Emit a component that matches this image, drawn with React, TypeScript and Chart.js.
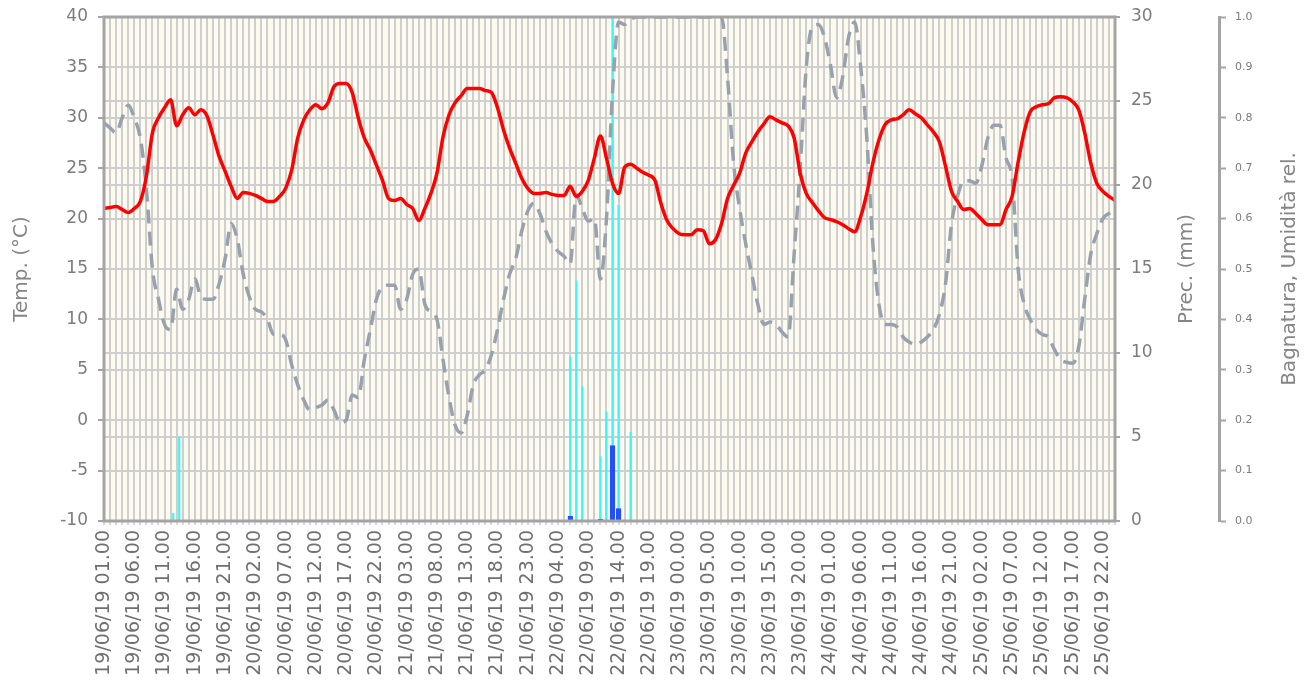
import React, { useEffect, useRef } from 'react';
import { Chart, registerables } from 'chart.js';

Chart.register(...registerables);

// ---------- DATA ----------
// hourly categories: 19/06/19 01.00 ... 26/06/19 00.00
const START_DAY = 19;
const HOUR_COUNT = 168;
const categories: string[] = [];
for (let h = 0; h < HOUR_COUNT; h++) {
  const t = h + 1;
  const d = START_DAY + Math.floor(t / 24);
  const hr = t % 24;
  categories.push(`${String(d).padStart(2, '0')}/06/19 ${String(hr).padStart(2, '0')}.00`);
}
const LABEL_EVERY = 5;

// Temperature (°C), left axis
const temperature = [
  21.0, 21.1, 21.2, 20.9, 20.6, 21.0, 21.7, 24.2, 28.5, 30.0,
  31.0, 31.8, 29.2, 30.3, 31.0, 30.3, 30.8, 30.2, 28.3, 26.2,
  24.7, 23.2, 22.0, 22.6, 22.5, 22.3, 22.0, 21.7, 21.7, 22.2,
  23.0, 24.8, 28.0, 29.8, 30.8, 31.3, 30.9, 31.5, 33.1, 33.4,
  33.4, 32.5, 30.0, 28.0, 26.8, 25.3, 23.8, 22.0, 21.8, 22.0,
  21.4, 21.0, 19.8, 21.0, 22.5, 24.5, 28.1, 30.3, 31.5, 32.2,
  32.9, 32.9, 32.9, 32.7, 32.5, 31.0, 28.8, 27.0, 25.5, 24.0,
  23.0, 22.5, 22.5, 22.6, 22.4, 22.3, 22.3, 23.2, 22.2, 22.7,
  23.8, 26.0, 28.2, 26.0, 23.5, 22.5, 25.1, 25.4, 25.0, 24.6,
  24.3, 23.8, 21.5, 19.8, 19.0, 18.5, 18.4, 18.4, 18.9, 18.8,
  17.5, 17.9, 19.5, 22.0, 23.3, 24.5, 26.5, 27.6, 28.6, 29.4,
  30.1, 29.8, 29.5, 29.2, 28.0, 24.5, 22.5, 21.6, 20.8, 20.1,
  19.9, 19.7, 19.4, 19.0, 18.7, 20.2, 22.5, 25.5, 27.8, 29.3,
  29.8, 29.9, 30.3, 30.8, 30.4, 30.0, 29.3, 28.6, 27.6, 25.2,
  22.7, 21.7, 20.9, 21.0, 20.5, 19.9, 19.4, 19.4, 19.4, 20.9,
  22.2, 25.6, 28.6, 30.6, 31.1, 31.3, 31.4, 32.0, 32.1, 32.0,
  31.6, 30.8, 28.5, 25.5, 23.5, 22.7, 22.2, 21.8,
];

// Relative humidity (0-1), outer right axis
const humidity = [
  0.79, 0.78, 0.77, 0.80, 0.825, 0.80, 0.76, 0.66, 0.50, 0.44,
  0.39, 0.38, 0.46, 0.42, 0.44, 0.48, 0.445, 0.44, 0.44, 0.47,
  0.52, 0.59, 0.56, 0.49, 0.445, 0.42, 0.415, 0.40, 0.37, 0.37,
  0.36, 0.31, 0.27, 0.24, 0.22, 0.225, 0.23, 0.24, 0.22, 0.195,
  0.20, 0.25, 0.245, 0.32, 0.38, 0.44, 0.465, 0.468, 0.468, 0.42,
  0.44, 0.49, 0.50, 0.43, 0.415, 0.40, 0.32, 0.245, 0.19, 0.175,
  0.21, 0.27, 0.29, 0.30, 0.33, 0.38, 0.44, 0.49, 0.52, 0.575,
  0.615, 0.63, 0.61, 0.575, 0.55, 0.535, 0.525, 0.51, 0.648, 0.62,
  0.595, 0.60, 0.48, 0.60, 0.85, 0.99, 0.985, 0.995, 1, 1,
  1, 1, 1, 1, 1, 1, 1, 1, 1, 1,
  1, 1, 1, 0.88, 0.71, 0.62, 0.55, 0.49, 0.43, 0.39,
  0.395, 0.39, 0.375, 0.365, 0.53, 0.70, 0.90, 0.98, 0.985, 0.96,
  0.905, 0.84, 0.88, 0.96, 0.99, 0.90, 0.76, 0.55, 0.43, 0.39,
  0.39, 0.385, 0.365, 0.355, 0.35, 0.355, 0.365, 0.38, 0.41, 0.47,
  0.59, 0.645, 0.675, 0.675, 0.67, 0.705, 0.76, 0.785, 0.785, 0.72,
  0.68, 0.50, 0.43, 0.40, 0.38, 0.37, 0.365, 0.34, 0.32, 0.315,
  0.313, 0.345, 0.44, 0.53, 0.57, 0.60, 0.61, 0.615,
];

// Leaf wetness (0-1), thin cyan bars
const wetnessHours = [11, 12, 77, 78, 79, 82, 83, 84, 85, 87];
const wetnessValues = [0.016, 0.167, 0.326, 0.477, 0.267, 0.128, 0.217, 1.0, 0.627, 0.177];

// Precipitation (mm), blue bars
const rainHours = [77, 82, 84, 85];
const rainValues = [0.3, 0.12, 4.5, 0.75];

const sparse = (hours: number[], values: number[]) => {
  const arr: (number | null)[] = new Array(HOUR_COUNT).fill(null);
  hours.forEach((h, i) => { arr[h] = values[i]; });
  return arr;
};

const FONT = 'DejaVu Sans';
const GRID = '#cfcfcf';
const AXIS = '#a4a4a4';
const TICK_TEXT = '#7c7c7c';
const TITLE_TEXT = '#858585';

export default function App() {
  const ref = useRef<HTMLCanvasElement>(null);

  useEffect(() => {
    const canvas = ref.current;
    if (!canvas) return;

    const bgPlugin = {
      id: 'plotBg',
      beforeDraw(chart: any) {
        const { ctx, chartArea: a } = chart;
        ctx.save();
        ctx.fillStyle = '#fdfbf0';
        ctx.fillRect(a.left, a.top, a.right - a.left, a.bottom - a.top);
        ctx.restore();
      },
    };

    const framePlugin = {
      id: 'frame',
      afterDatasetsDraw(chart: any) {
        const { ctx, chartArea: a } = chart;
        ctx.save();
        ctx.strokeStyle = AXIS;
        ctx.lineWidth = 3;
        ctx.strokeRect(a.left, a.top, a.right - a.left, a.bottom - a.top);
        ctx.restore();
      },
      afterDraw(chart: any) {
        const { ctx, chartArea: a } = chart;
        const midY = (a.top + a.bottom) / 2;
        const drawTitle = (text: string, x: number) => {
          ctx.save();
          ctx.translate(x, midY);
          ctx.rotate(-Math.PI / 2);
          ctx.textAlign = 'center';
          ctx.textBaseline = 'middle';
          ctx.fillStyle = TITLE_TEXT;
          ctx.font = `20px "${FONT}"`;
          ctx.fillText(text, 0, 0);
          ctx.restore();
        };
        const p = chart.scales.yPrec;
        const hmd = chart.scales.yHum;
        drawTitle('Prec. (mm)', p.left + 72);
        drawTitle('Bagnatura, Umidità rel.', hmd.left + 71);
      },
    };

    const fitVertical = (width: number) => (s: any) => {
      s.width = width;
      s.paddingTop = 0;
      s.paddingBottom = 0;
    };

    const chart = new Chart(canvas, {
      type: 'line',
      data: {
        labels: categories,
        datasets: [
          {
            type: 'line',
            label: 'Temp.',
            data: temperature,
            xAxisID: 'x',
            yAxisID: 'yT',
            borderColor: '#ff0000',
            borderWidth: 3.5,
            pointRadius: 0,
            cubicInterpolationMode: 'monotone',
            order: 0,
          },
          {
            type: 'line',
            label: 'Umidità rel.',
            data: humidity,
            xAxisID: 'x',
            yAxisID: 'yHum',
            borderColor: '#98a2ad',
            borderWidth: 3.5,
            borderDash: [14, 8],
            pointRadius: 0,
            cubicInterpolationMode: 'monotone',
            clip: 0,
            order: 1,
          },
          {
            type: 'bar',
            label: 'Prec.',
            data: sparse(rainHours, rainValues),
            xAxisID: 'xb',
            yAxisID: 'yPrec',
            backgroundColor: '#2250ff',
            borderWidth: 0,
            barPercentage: 0.85,
            categoryPercentage: 1,
            grouped: false,
            order: 2,
          },
          {
            type: 'bar',
            label: 'Bagnatura',
            data: sparse(wetnessHours, wetnessValues),
            xAxisID: 'xb',
            yAxisID: 'yHum',
            backgroundColor: '#3ef5f5',
            borderWidth: 0,
            barPercentage: 0.36,
            categoryPercentage: 1,
            grouped: false,
            order: 3,
          },
        ] as any,
      },
      options: {
        responsive: false,
        animation: false,
        devicePixelRatio: 1,
        layout: { padding: { top: 17, left: 0, right: 0, bottom: 0 } },
        plugins: {
          legend: { display: false },
          tooltip: { enabled: false },
        },
        scales: {
          x: {
            type: 'category',
            position: 'bottom',
            offset: false,
            grid: {
              color: GRID,
              lineWidth: 2,
              offset: false,
              drawTicks: true,
              tickLength: 4,
              tickColor: '#b4b4b4',
              tickWidth: 1,
            },
            border: { display: false },
            ticks: {
              autoSkip: false,
              maxRotation: 90,
              minRotation: 90,
              padding: 5,
              color: '#6f6f6f',
              font: { family: FONT, size: 19 },
              callback: (_v: any, i: number) => (i % LABEL_EVERY === 0 ? categories[i] : ''),
            },
            afterFit: (s: any) => { s.height = 165; },
          },
          xb: {
            type: 'category',
            position: 'bottom',
            display: false,
            offset: true,
            grid: { offset: true },
          },
          yT: {
            type: 'linear',
            position: 'left',
            min: -10,
            max: 40,
            ticks: {
              stepSize: 5,
              color: TICK_TEXT,
              padding: 10,
              font: { family: FONT, size: 17 },
            },
            grid: {
              color: GRID,
              lineWidth: 2,
              tickLength: 6,
              tickColor: AXIS,
              tickWidth: 2,
            },
            border: { display: false },
            title: {
              display: true,
              text: 'Temp. (°C)',
              color: TITLE_TEXT,
              font: { family: FONT, size: 20 },
              padding: { top: 10, bottom: 0 },
            },
            afterFit: fitVertical(104),
          },
          yPrec: {
            type: 'linear',
            position: 'right',
            weight: 1,
            min: 0,
            max: 30,
            ticks: {
              stepSize: 5,
              color: TICK_TEXT,
              padding: 11,
              font: { family: FONT, size: 17 },
            },
            grid: {
              color: GRID,
              lineWidth: 2,
              tickLength: 5,
              tickColor: AXIS,
              tickWidth: 2,
            },
            border: { display: false },
            afterFit: fitVertical(104),
          },
          yHum: {
            type: 'linear',
            position: 'right',
            weight: 2,
            min: 0,
            max: 1,
            ticks: {
              stepSize: 0.1,
              color: TICK_TEXT,
              padding: 9,
              font: { family: FONT, size: 11 },
              callback: (v: any) => Number(v).toFixed(1),
            },
            grid: {
              drawOnChartArea: false,
              drawTicks: true,
              tickLength: 7,
              tickColor: AXIS,
              tickWidth: 2,
            },
            border: { display: true, color: AXIS, width: 3 },
            afterFit: fitVertical(88),
          },
        },
      } as any,
      plugins: [bgPlugin, framePlugin],
    });

    return () => chart.destroy();
  }, []);

  return (
    <canvas
      ref={ref}
      width={1307}
      height={686}
      style={{ position: 'fixed', left: 0, top: 0, width: 1307, height: 686, background: '#ffffff' }}
    />
  );
}
